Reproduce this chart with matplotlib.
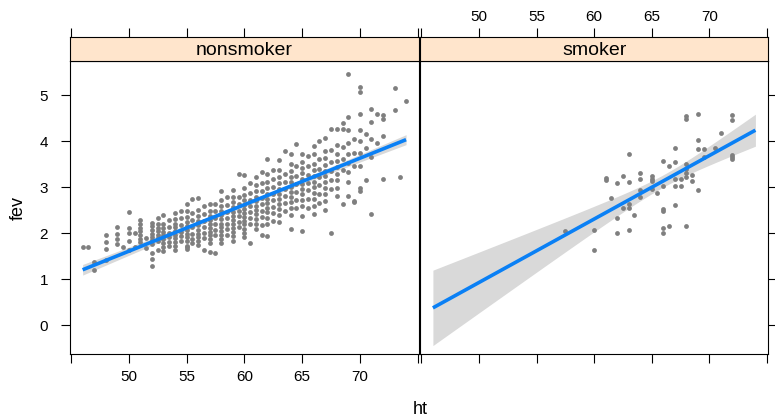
import numpy as np
import matplotlib
matplotlib.use("Agg")
import matplotlib.pyplot as plt

plt.rcParams['font.family'] = ['Liberation Sans', 'DejaVu Sans']

# ---------------- data ----------------
panels = ["nonsmoker", "smoker"]
x_ticks = [45, 50, 55, 60, 65, 70, 75]
x_ticklabels = ["", "50", "55", "60", "65", "70", ""]
y_ticks = [0, 1, 2, 3, 4, 5]
x_label = "ht"
y_label = "fev"

ns_col_ht = [46.0, 46.5, 47.0, 48.0, 49.0, 49.5, 50.0, 50.5, 51.0, 51.5,
             52.0, 52.5, 53.0, 53.5, 54.0, 54.5, 55.0, 55.5, 56.0, 56.5,
             57.0, 57.5, 58.0, 58.5, 59.0, 59.5, 60.0, 60.5, 61.0, 61.5,
             62.0, 62.5, 63.0, 63.5, 64.0, 64.5, 65.0, 65.5, 66.0, 66.5,
             67.0, 67.5, 68.0, 68.5, 69.0, 69.5, 70.0, 70.5, 71.0, 71.5,
             72.0, 73.0, 73.5, 74.0]
ns_col_fev = [
    [1.69], [1.69], [1.37, 1.20], [1.95, 1.80, 1.66, 1.42],
    [2.14, 1.98, 1.88, 1.77], [1.69], [2.45, 2.12, 2.01, 1.82, 1.63],
    [2.00, 1.71], [2.28, 2.20, 2.12, 2.04, 1.96, 1.88, 1.80], [1.90, 1.68],
    [2.22, 2.15, 2.07, 1.99, 1.92, 1.85, 1.77, 1.58, 1.45, 1.28],
    [2.32, 2.20, 2.12, 2.05, 1.97, 1.90, 1.82, 1.63],
    [2.40, 2.21, 2.11, 2.03, 1.95, 1.88, 1.79, 1.70, 1.62],
    [2.28, 2.13, 2.01, 1.91, 1.81, 1.72],
    [2.43, 2.31, 2.21, 2.13, 2.05, 1.97, 1.89, 1.81, 1.73, 1.64],
    [2.48, 2.33, 2.18, 2.03, 1.93, 1.83],
    [2.63, 2.48, 2.35, 2.25, 2.15, 2.07, 1.99, 1.91, 1.83, 1.73, 1.71, 1.65],
    [2.74, 2.43, 2.28, 2.13, 1.99, 1.88, 1.78],
    [2.76, 2.51, 2.38, 2.27, 2.17, 2.08, 1.99, 1.91, 1.82, 1.75],
    [2.58, 2.41, 2.26, 2.13, 2.01, 1.89, 1.63],
    [2.64, 2.48, 2.38, 2.29, 2.20, 2.11, 2.03, 1.95, 1.87, 1.78, 1.60],
    [2.63, 2.48, 2.33, 2.20, 2.08, 1.96, 1.56],
    [2.92, 2.71, 2.59, 2.49, 2.39, 2.30, 2.21, 2.13, 2.05, 1.97, 1.88, 1.78],
    [2.78, 2.61, 2.45, 2.33, 2.21, 2.09, 1.95],
    [2.93, 2.79, 2.67, 2.56, 2.46, 2.37, 2.28, 2.20, 2.12, 2.03, 1.93, 1.83],
    [3.28, 2.78, 2.63, 2.49, 2.37, 2.25, 2.13],
    [3.26, 2.98, 2.83, 2.71, 2.61, 2.52, 2.43, 2.35, 2.27, 2.19, 2.10, 2.00, 1.92],
    [3.08, 2.88, 2.73, 2.59, 2.46, 2.33, 2.21, 1.78],
    [3.23, 3.05, 2.91, 2.79, 2.69, 2.59, 2.50, 2.41, 2.31, 2.21, 2.09],
    [3.33, 3.08, 2.91, 2.77, 2.63, 2.49, 2.35, 2.17, 1.97],
    [3.62, 3.28, 3.11, 2.98, 2.86, 2.75, 2.65, 2.55, 2.45, 2.33, 2.20, 1.94],
    [3.38, 3.17, 3.01, 2.86, 2.71, 2.57, 2.43, 2.26],
    [3.58, 3.37, 3.21, 3.08, 2.96, 2.85, 2.75, 2.64, 2.53, 2.40, 2.25],
    [3.78, 3.28, 3.11, 2.96, 2.81, 2.65, 2.48],
    [3.73, 3.51, 3.36, 3.23, 3.11, 3.00, 2.90, 2.79, 2.68, 2.55, 2.39, 2.10],
    [3.94, 3.45, 3.25, 3.07, 2.90, 2.73, 2.55],
    [3.73, 3.55, 3.42, 3.30, 3.18, 3.07, 2.96, 2.85, 2.73, 2.58, 2.38, 2.05],
    [3.68, 3.45, 3.27, 3.10, 2.93, 2.75, 2.55],
    [3.89, 3.71, 3.51, 3.37, 3.24, 3.12, 3.00, 2.88, 2.75, 2.60, 2.41],
    [4.00, 3.61, 3.40, 3.22, 3.04, 2.85, 2.65],
    [4.07, 3.78, 3.63, 3.49, 3.36, 3.24, 3.12, 2.99, 2.85, 2.70, 2.51],
    [4.26, 3.81, 3.55, 3.35, 3.15, 2.95, 2.01],
    [4.27, 3.91, 3.73, 3.57, 3.43, 3.29, 3.15, 2.99, 2.81],
    [4.40, 4.26, 3.88, 3.62, 3.38, 2.63],
    [5.45, 4.52, 4.23, 3.95, 3.72, 3.52, 3.32, 3.12, 2.81],
    [4.05, 3.75, 3.45, 2.70, 2.68],
    [5.17, 5.07, 4.59, 4.25, 4.00, 3.75, 3.45, 2.99, 2.92],
    [4.15, 3.85, 3.15],
    [4.69, 4.41, 4.05, 3.65, 2.41],
    [4.58, 3.95],
    [4.57, 4.47, 4.10, 3.17],
    [5.16, 4.67],
    [3.23],
    [4.87],
]

sm_ht = [68.0, 68.0, 69.0, 72.0, 72.0, 71.0, 69.0, 69.0, 69.5, 70.5,
         67.0, 63.0, 72.0, 72.0, 72.0, 69.5, 66.0, 67.0, 66.5, 68.0,
         68.0, 68.0, 68.0, 68.5, 67.5, 67.0, 68.5, 64.0, 64.0, 65.0,
         65.0, 65.0, 61.0, 61.0, 62.5, 62.0, 63.0, 66.0, 67.0, 67.5,
         64.0, 64.0, 65.0, 65.5, 69.0, 61.5, 63.0, 63.0, 62.5, 67.0,
         66.0, 66.0, 63.5, 62.0, 60.0, 62.0, 63.0, 66.0, 66.0, 66.5,
         68.0, 60.0, 57.5]
sm_fev = [4.55, 4.49, 4.58, 4.57, 4.46, 4.17, 4.03, 3.83, 3.83, 3.86,
          3.86, 3.73, 3.70, 3.65, 3.60, 3.66, 3.56, 3.54, 3.45, 3.50,
          3.39, 3.30, 3.21, 3.27, 3.18, 3.18, 3.13, 3.30, 3.17, 3.24,
          3.18, 3.14, 3.20, 3.15, 3.24, 3.09, 3.12, 3.03, 3.03, 3.03,
          2.94, 2.79, 2.95, 2.88, 2.93, 2.77, 2.64, 2.54, 2.54, 2.61,
          2.53, 2.48, 2.39, 2.34, 2.08, 2.00, 2.07, 2.12, 2.00, 2.16,
          2.15, 1.63, 2.04]

# --------------- helpers ---------------
ns_ht = np.concatenate([[h] * len(v) for h, v in zip(ns_col_ht, ns_col_fev)])
ns_fev = np.concatenate([np.asarray(v, float) for v in ns_col_fev])
sm_ht = np.asarray(sm_ht, float)
sm_fev = np.asarray(sm_fev, float)

all_ht = np.concatenate([ns_ht, sm_ht])
x_fit = np.linspace(all_ht.min(), all_ht.max(), 100)


def lm_band(x, y, xg, tval=1.98):
    n = len(x)
    b, a = np.polyfit(x, y, 1)
    res = y - (a + b * x)
    s = np.sqrt(np.sum(res ** 2) / (n - 2))
    xm = x.mean()
    sxx = np.sum((x - xm) ** 2)
    se = s * np.sqrt(1.0 / n + (xg - xm) ** 2 / sxx)
    yhat = a + b * xg
    return yhat, yhat - tval * se, yhat + tval * se


W, H = 775, 418


def rect(x0, y0, x1, y1):
    return [x0 / W, 1 - y1 / H, (x1 - x0) / W, (y1 - y0) / H]


fig = plt.figure(figsize=(W / 100, H / 100), dpi=100)
fig.patch.set_facecolor("white")

xlim = (44.88, 75.12)
ylim = (-0.623, 5.745)

panel_px = [(69.7, 419.0), (420.0, 768.3)]
data = [(ns_ht, ns_fev), (sm_ht, sm_fev)]

tick_kw = dict(direction="out", length=6.5, width=0.8, color="black")
tick_fs = 11
for i, (name, (px0, px1), (xx, yy)) in enumerate(zip(panels, panel_px, data)):
    ax = fig.add_axes(rect(px0, 60.7, px1, 354))
    st = fig.add_axes(rect(px0, 37.3, px1, 60.7))

    yhat, lo, hi = lm_band(xx, yy, x_fit)
    ax.fill_between(x_fit, lo, hi, color="#d9d9d9", lw=0, zorder=1)
    ax.scatter(xx, yy, s=12, color="#7f7f7f", lw=0, zorder=2)
    ax.plot(x_fit, yhat, color="#0a80f5", lw=2.6, solid_capstyle="butt", zorder=3)

    ax.set_xlim(*xlim)
    ax.set_ylim(*ylim)
    ax.set_xticks(x_ticks)
    ax.set_yticks(y_ticks)
    for sp in ax.spines.values():
        sp.set_linewidth(0.8)
    ax.tick_params(axis="both", labelsize=tick_fs, **tick_kw)
    ax.tick_params(axis="x", top=False, bottom=True, pad=5)
    if i == 0:
        ax.set_xticklabels(x_ticklabels)
        ax.tick_params(axis="y", left=True, right=False, labelleft=True, pad=9)
    else:
        ax.tick_params(axis="x", labelbottom=False)
        ax.tick_params(axis="y", left=False, right=True, labelleft=False,
                       labelright=False)

    # strip
    st.set_xlim(*xlim)
    st.set_ylim(0, 1)
    st.set_facecolor("#ffe5cc")
    for sp in st.spines.values():
        sp.set_linewidth(0.8)
    st.set_yticks([])
    st.set_xticks(x_ticks)
    st.tick_params(axis="x", bottom=False, top=True, labelbottom=False,
                   labeltop=(i == 1), labelsize=tick_fs, pad=3, **tick_kw)
    if i == 1:
        st.set_xticklabels(x_ticklabels)
    st.text(0.5, 0.45, name, transform=st.transAxes, ha="center", va="center",
            fontsize=14)

fig.text(420 / W, 1 - 410 / H, x_label, ha="center", va="center", fontsize=13)
fig.text(18 / W, 1 - 208 / H, y_label, ha="center", va="center", rotation=90,
         fontsize=13)

fig.savefig("out.png", dpi=100)
